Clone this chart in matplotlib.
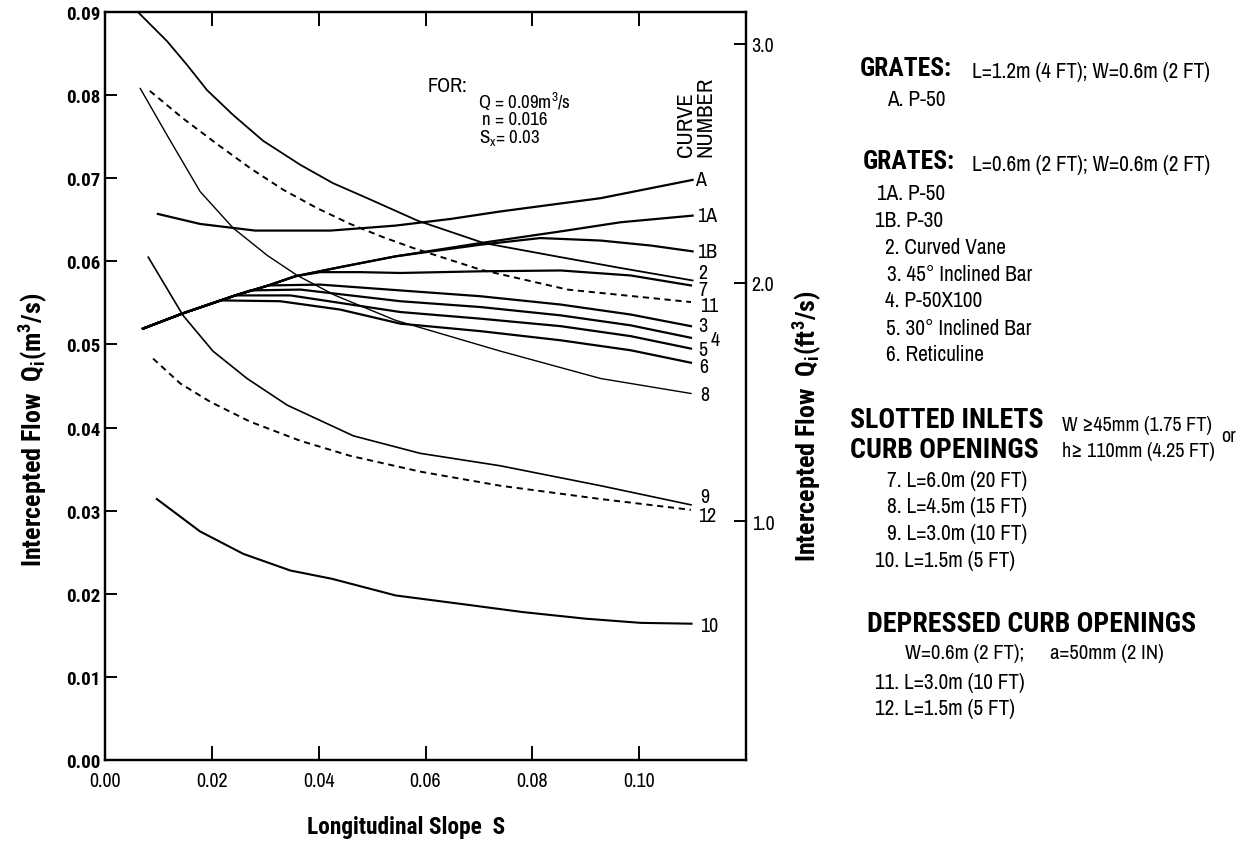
import matplotlib
matplotlib.use("Agg")
import matplotlib.pyplot as plt
from matplotlib import font_manager as fm

# ---------------- data ----------------
# Longitudinal slope S (m/m) and intercepted flow Qi (m^3/s) per curve
slope_A = [0.0099, 0.0178, 0.0281, 0.0422, 0.0544, 0.0647, 0.0740, 0.0928, 0.1100]
flow_A = [0.0657, 0.0645, 0.0637, 0.0637, 0.0643, 0.0651, 0.0660, 0.0676, 0.0698]

slope_1A = [0.0071, 0.0144, 0.0244, 0.0306, 0.0356, 0.0440, 0.0544, 0.0703, 0.0853, 0.0965, 0.1100]
flow_1A = [0.0519, 0.0537, 0.0559, 0.0571, 0.0582, 0.0593, 0.0606, 0.0622, 0.0636, 0.0647, 0.0655]

slope_1B = [0.0071, 0.0144, 0.0244, 0.0306, 0.0356, 0.0440, 0.0544, 0.0703, 0.0815, 0.0928, 0.1022, 0.1100]
flow_1B = [0.0519, 0.0537, 0.0559, 0.0571, 0.0582, 0.0593, 0.0606, 0.0620, 0.0628, 0.0625, 0.0619, 0.0612]

slope_2 = [0.0071, 0.0144, 0.0244, 0.0306, 0.0356, 0.0403, 0.0478, 0.0553, 0.0703, 0.0853, 0.0984, 0.1097]
flow_2 = [0.0519, 0.0537, 0.0559, 0.0571, 0.0582, 0.0587, 0.0587, 0.0586, 0.0588, 0.0589, 0.0583, 0.0571]

slope_3 = [0.0071, 0.0144, 0.0244, 0.0306, 0.0403, 0.0553, 0.0703, 0.0853, 0.0984, 0.1097]
flow_3 = [0.0519, 0.0537, 0.0559, 0.0571, 0.0572, 0.0565, 0.0558, 0.0548, 0.0536, 0.0522]

slope_4 = [0.0071, 0.0144, 0.0244, 0.0272, 0.0366, 0.0553, 0.0703, 0.0853, 0.0984, 0.1097]
flow_4 = [0.0519, 0.0537, 0.0559, 0.0565, 0.0566, 0.0552, 0.0545, 0.0535, 0.0523, 0.0508]

slope_5 = [0.0071, 0.0144, 0.0244, 0.0347, 0.0553, 0.0703, 0.0853, 0.0984, 0.1097]
flow_5 = [0.0519, 0.0537, 0.0559, 0.0559, 0.0539, 0.0531, 0.0522, 0.0510, 0.0495]

slope_6 = [0.0071, 0.0144, 0.0216, 0.0328, 0.0440, 0.0553, 0.0703, 0.0853, 0.0984, 0.1097]
flow_6 = [0.0519, 0.0537, 0.0553, 0.0552, 0.0542, 0.0525, 0.0516, 0.0505, 0.0493, 0.0478]

slope_7 = [0.0060, 0.0116, 0.0154, 0.0191, 0.0240, 0.0296, 0.0366, 0.0427, 0.0491, 0.0585, 0.0709, 0.0853, 0.0965, 0.1100]
flow_7 = [0.0901, 0.0865, 0.0836, 0.0806, 0.0776, 0.0745, 0.0716, 0.0694, 0.0676, 0.0649, 0.0622, 0.0605, 0.0592, 0.0577]

slope_8 = [0.0066, 0.0116, 0.0178, 0.0240, 0.0304, 0.0360, 0.0431, 0.0544, 0.0740, 0.0928, 0.1097]
flow_8 = [0.0808, 0.0752, 0.0684, 0.0640, 0.0607, 0.0583, 0.0559, 0.0529, 0.0492, 0.0459, 0.0441]

slope_9 = [0.0081, 0.0146, 0.0202, 0.0266, 0.0341, 0.0465, 0.0590, 0.0740, 0.0928, 0.1097]
flow_9 = [0.0605, 0.0535, 0.0492, 0.0459, 0.0427, 0.0390, 0.0369, 0.0354, 0.0330, 0.0307]

slope_10 = [0.0097, 0.0178, 0.0259, 0.0347, 0.0425, 0.0544, 0.0664, 0.0782, 0.0900, 0.1003, 0.1098]
flow_10 = [0.0314, 0.0275, 0.0248, 0.0228, 0.0218, 0.0198, 0.0188, 0.0178, 0.0170, 0.0165, 0.0164]

slope_11 = [0.0084, 0.0146, 0.0210, 0.0272, 0.0334, 0.0397, 0.0459, 0.0521, 0.0577, 0.0703, 0.0866, 0.1097]
flow_11 = [0.0805, 0.0772, 0.0741, 0.0712, 0.0686, 0.0664, 0.0645, 0.0629, 0.0616, 0.0590, 0.0566, 0.0551]

slope_12 = [0.0090, 0.0141, 0.0197, 0.0272, 0.0366, 0.0459, 0.0590, 0.0740, 0.0928, 0.1097]
flow_12 = [0.0483, 0.0453, 0.0431, 0.0407, 0.0384, 0.0366, 0.0347, 0.0330, 0.0314, 0.0301]

x_ticks = [0.00, 0.02, 0.04, 0.06, 0.08, 0.10]
x_tick_labels = ["0.00", "0.02", "0.04", "0.06", "0.08", "0.10"]
y_ticks = [0.00, 0.01, 0.02, 0.03, 0.04, 0.05, 0.06, 0.07, 0.08, 0.09]
y_tick_labels = ["0.00", "0.01", "0.02", "0.03", "0.04", "0.05", "0.06", "0.07", "0.08", "0.09"]
y2_ticks = [1.0, 2.0, 3.0]
y2_tick_labels = ["1.0", "2.0", "3.0"]

# ---------------- fonts ----------------
CANDS = ["Liberation Sans Narrow", "Arial Narrow", "Archivo Narrow", "Roboto Condensed",
         "IBM Plex Sans Condensed", "Encode Sans Condensed", "Fira Sans Condensed",
         "Open Sans Condensed", "PT Sans Narrow", "Pragati Narrow",
         "Liberation Sans", "DejaVu Sans"]


def _w(v):
    try:
        return int(v)
    except Exception:
        return {"bold": 700, "heavy": 800, "black": 900, "semibold": 600,
                "demibold": 600}.get(str(v).lower(), 400)


weights = {}
for f in fm.fontManager.ttflist:
    if f.style == "normal":
        weights.setdefault(f.name, set()).add(_w(f.weight))

FONT = next((c for c in CANDS if any(380 <= w <= 450 for w in weights.get(c, ()))), "DejaVu Sans")
FONT_B = next((c for c in CANDS if any(w >= 650 for w in weights.get(c, ()))), FONT)
FAM = [FONT, "DejaVu Sans"]
FAM_B = [FONT_B, "DejaVu Sans"]
plt.rcParams["font.family"] = FAM
plt.rcParams["mathtext.fontset"] = "custom"
plt.rcParams["mathtext.rm"] = FONT
plt.rcParams["mathtext.it"] = FONT + ":italic"
plt.rcParams["mathtext.bf"] = FONT_B + ":bold"

W, H = 1246, 845
fig = plt.figure(figsize=(W / 100, H / 100), dpi=100)
renderer = fig.canvas.get_renderer()


def size_for(s, target, base, weight="normal"):
    """font size that makes string s span target pixels"""
    fam = FAM_B if weight == "bold" else FAM
    t = fig.text(0, 0, s, fontsize=base, fontweight=weight, family=fam)
    bb = t.get_window_extent(renderer)
    t.remove()
    ext = bb.width
    val = base * target / ext if ext > 0 else base
    return max(base * 0.7, min(base * 1.4, val))


ax = fig.add_axes([105 / W, 1 - 761 / H, 641 / W, 748 / H])
ax.set_xlim(0, 0.12)
ax.set_ylim(0, 0.09)

thick = 1.6
dash = (3.2, 2.4)
ax.plot(slope_A, flow_A, color="black", lw=thick)
ax.plot(slope_1A, flow_1A, color="black", lw=thick)
ax.plot(slope_1B, flow_1B, color="black", lw=thick)
ax.plot(slope_2, flow_2, color="black", lw=thick)
ax.plot(slope_3, flow_3, color="black", lw=thick)
ax.plot(slope_4, flow_4, color="black", lw=thick)
ax.plot(slope_5, flow_5, color="black", lw=thick)
ax.plot(slope_6, flow_6, color="black", lw=thick)
ax.plot(slope_7, flow_7, color="black", lw=1.3)
ax.plot(slope_8, flow_8, color="black", lw=1.0)
ax.plot(slope_9, flow_9, color="black", lw=1.2)
ax.plot(slope_10, flow_10, color="black", lw=1.5)
ax.plot(slope_11, flow_11, color="black", lw=1.4, dashes=dash)
ax.plot(slope_12, flow_12, color="black", lw=1.4, dashes=dash)

for sp in ax.spines.values():
    sp.set_linewidth(1.6)

tick_fs = size_for("0.02", 32, 14)
ytick_fs = tick_fs * 0.95
ax.set_xticks(x_ticks)
ax.set_xticklabels(x_tick_labels, fontsize=tick_fs)
ax.set_yticks(y_ticks)
ax.set_yticklabels(y_tick_labels, fontsize=ytick_fs, fontweight="bold", family=FAM_B)
ax.tick_params(axis="x", direction="in", length=10, width=1.4, top=True, pad=8)
ax.tick_params(axis="y", direction="in", length=8.5, width=1.4, right=False, pad=3.5)

ax2 = ax.twinx()
ax2.set_ylim(0, 3.134)
ax2.set_yticks(y2_ticks)
ax2.set_yticklabels(y2_tick_labels, fontsize=tick_fs)
ax2.tick_params(axis="y", direction="in", length=8.5, width=1.4, pad=4)
for sp in ax2.spines.values():
    sp.set_linewidth(1.6)


def put(x, y, s, size, weight="normal", ha="left", va="center", rot=0, **kw):
    fam = FAM_B if weight == "bold" else FAM
    return fig.text(x / W, 1 - y / H, s, fontsize=size, fontweight=weight, ha=ha, va=va,
                    rotation=rot, family=fam, **kw)


# axis titles
ylab_fs = size_for(r"Intercepted Flow  $\mathbf{Q_i(ft^3/s)}$", 272, 17, weight="bold")
put(33, 430, r"Intercepted Flow  $\mathbf{Q_i(m^3/s)}$", ylab_fs, weight="bold", ha="center", rot=90)
put(807, 426, r"Intercepted Flow  $\mathbf{Q_i(ft^3/s)}$", ylab_fs, weight="bold", ha="center", rot=90)
xlab_fs = size_for("Longitudinal Slope  S", 198, 16.5, weight="bold")
put(406, 828, "Longitudinal Slope  S", xlab_fs, weight="bold", ha="center")

# conditions box
for_fs = size_for("n = 0.016", 70, 14)
put(428, 86, "FOR:", for_fs)
put(478, 102, r"Q = 0.09m$^3$/s", for_fs * 0.93)
put(482, 120, "n = 0.016", for_fs * 0.93)
put(479, 138, r"S$_\mathrm{x}$= 0.03", for_fs * 0.93)
cn_fs = size_for("NUMBER", 80, 15.5)
put(696, 157, "CURVE\nNUMBER", cn_fs, ha="center", va="bottom", rot=90, linespacing=0.95,
    multialignment="left")

# curve numbers
lab_fs = size_for("1A", 20, 14)
for lab, lx, ly in [("A", 695, 181), ("1A", 697, 217), ("1B", 697, 253), ("2", 698, 274),
                    ("7", 698, 291), ("11", 700, 307), ("3", 698, 327), ("4", 711, 340),
                    ("5", 698, 351), ("6", 699, 368), ("8", 700, 396), ("9", 700, 498),
                    ("12", 698, 517), ("10", 700, 627)]:
    put(lx, ly, lab, lab_fs)

# explanation panel
item_fs = size_for("3. 45° Inclined Bar", 145, 14.5)
grate_fs = size_for("GRATES:", 92, 17, weight="bold")
head_fs = size_for("DEPRESSED CURB OPENINGS", 330, 18.5, weight="bold")
cond_fs = size_for("W ≥45mm (1.75 FT)", 150, 13.5)

put(860, 69, "GRATES:", grate_fs, weight="bold")
put(972, 72, "L=1.2m (4 FT); W=0.6m (2 FT)", item_fs)
put(887, 100, "A. P-50", item_fs)
put(863, 162, "GRATES:", grate_fs, weight="bold")
put(972, 165, "L=0.6m (2 FT); W=0.6m (2 FT)", item_fs)
put(877, 194, "1A. P-50", item_fs)
put(875, 221, "1B. P-30", item_fs)
put(885, 248, "2. Curved Vane", item_fs)
put(887, 275, "3. 45° Inclined Bar", item_fs)
put(885, 301, "4. P-50X100", item_fs)
put(886, 329, "5. 30° Inclined Bar", item_fs)
put(886, 355, "6. Reticuline", item_fs)

put(850, 421, "SLOTTED INLETS", head_fs, weight="bold")
put(850, 450, "CURB OPENINGS", head_fs, weight="bold")
put(1062, 426, "W ≥45mm (1.75 FT)", cond_fs)
put(1062, 452, "h≥ 110mm (4.25 FT)", cond_fs)
put(1221, 436, "or", cond_fs)
put(887, 481, "7. L=6.0m (20 FT)", item_fs)
put(887, 507, "8. L=4.5m (15 FT)", item_fs)
put(887, 534, "9. L=3.0m (10 FT)", item_fs)
put(875, 561, "10. L=1.5m (5 FT)", item_fs)

put(867, 625, "DEPRESSED CURB OPENINGS", head_fs, weight="bold")
put(905, 654, "W=0.6m (2 FT);", item_fs * 0.97)
put(1050, 654, "a=50mm (2 IN)", item_fs * 0.97)
put(875, 683, "11. L=3.0m (10 FT)", item_fs)
put(875, 709, "12. L=1.5m (5 FT)", item_fs)

fig.savefig("out.png", dpi=100)
